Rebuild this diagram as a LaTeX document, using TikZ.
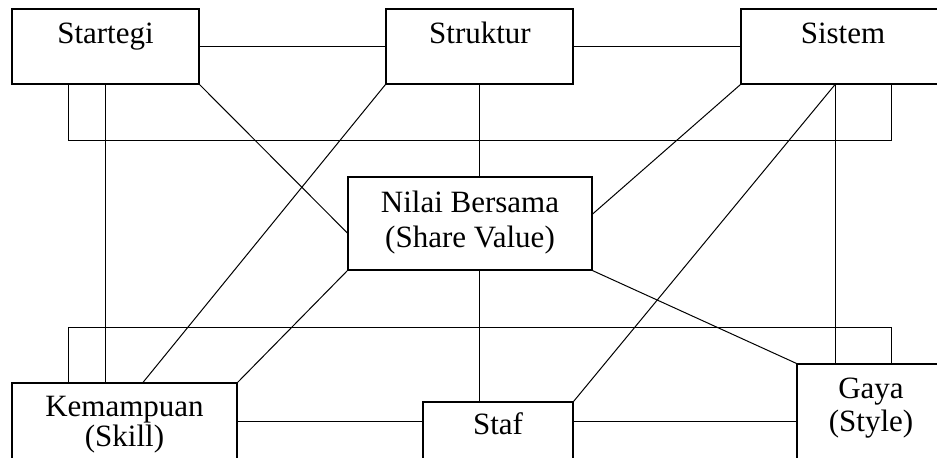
\documentclass[tikz,border=0pt]{standalone}
\usepackage{fontspec}
\setmainfont{Liberation Serif}
\usetikzlibrary{fit,calc}

\begin{document}
\begin{tikzpicture}[x=0.5pt,y=-0.5pt,
  box/.style={draw,line width=0.6pt,inner sep=0pt},
  lbl/.style={anchor=base,inner sep=0pt,font=\fontsize{15.5}{17.5}\selectfont},
  link/.style={line width=0.5pt}]
\useasboundingbox (0,0) rectangle (937,457);
% boxes
\node[box,fit={(12,9) (199,84)}] (strategi) {};
\node[box,fit={(386,9) (573,84)}] (struktur) {};
\node[box,fit={(741,9) (945,84)}] (sistem) {};
\node[box,fit={(348,177) (592,270)}] (nilai) {};
\node[box,fit={(12,383) (237,470)}] (skill) {};
\node[box,fit={(423,402) (573,470)}] (staf) {};
\node[box,fit={(797,364) (945,470)}] (gaya) {};
% labels
\node[lbl] (strategiT) at (105.5,43) {Startegi};
\node[lbl] (strukturT) at (480,43) {Struktur};
\node[lbl] (sistemT) at (843,43) {Sistem};
\node[lbl] (nilaiT) at (470,212) {Nilai Bersama};
\node[lbl] (nilaiS) at (470,247) {(Share Value)};
\node[lbl] (skillT) at (124.5,416) {Kemampuan};
\node[lbl] (skillS) at (124.5,446) {(Skill)};
\node[lbl] (stafT) at (498,434) {Staf};
\node[lbl] (gayaT) at (871,398) {Gaya};
\node[lbl] (gayaS) at (871,431) {(Style)};
% frame corners
\coordinate (frameA) at (68,140);
\coordinate (frameB) at (891,140);
\coordinate (frameC) at (68,327);
\coordinate (frameD) at (891,327);
\coordinate (row) at (0,421);
\coordinate (sistemB) at ($(sistem.south)+(-8,0)$);
% links
\draw[link] (strategi) -- (struktur);
\draw[link] (struktur) -- (sistem);
\draw[link] (strategi.south -| frameA) -- (frameA) -- (frameB) -- (sistem.south -| frameB);
\draw[link] (skill.north -| frameC) -- (frameC) -- (frameD) -- (gaya.north -| frameD);
\draw[link] (strategi.south) -- (skill.north -| strategi.south);
\draw[link] (strategi.south east) -- ($(nilai.west)+(0,9.5)$);
\draw[link] (struktur.south west) -- ($(skill.north)+(18.5,0)$);
\draw[link] (struktur.south) -- (struktur.south |- nilai.north);
\draw[link] (sistem.south west) -- ($(nilai.east)+(0,-9.5)$);
\draw[link] (sistemB) -- (staf.north east);
\draw[link] (sistemB) -- (sistemB |- gaya.north);
\draw[link] (nilai.south west) -- (skill.north east);
\draw[link] (nilai.south -| struktur.south) -- (staf.north -| struktur.south);
\draw[link] (nilai.south east) -- (gaya.north west);
\draw[link] (skill.east |- row) -- (staf.west |- row);
\draw[link] (staf.east |- row) -- (gaya.west |- row);
\end{tikzpicture}
\end{document}
